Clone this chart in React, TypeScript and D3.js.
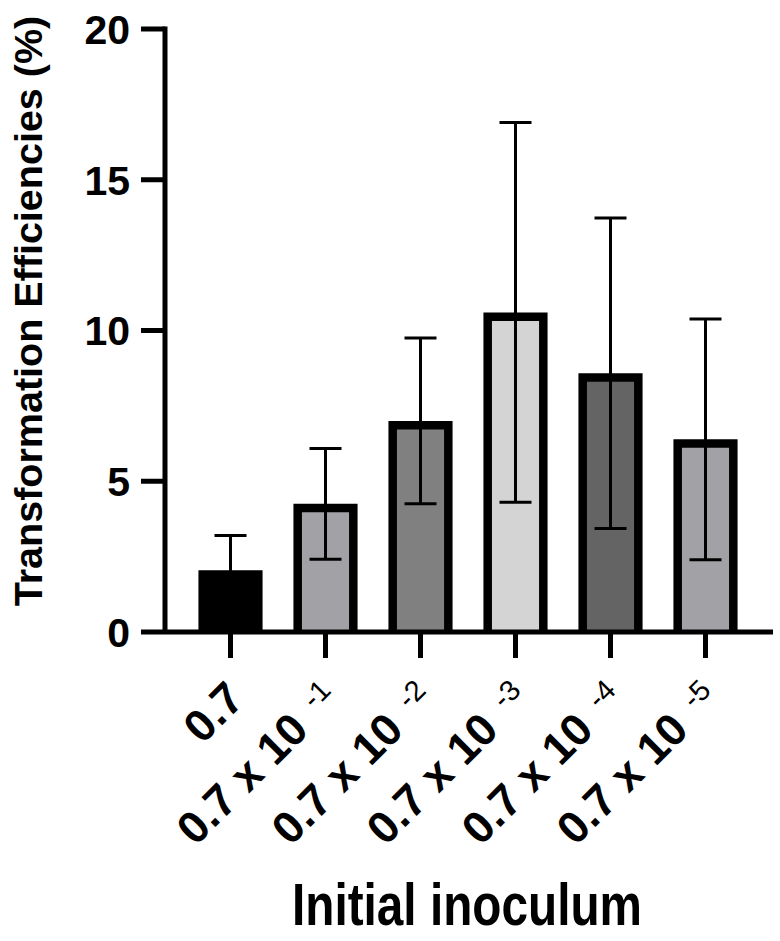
import * as d3 from "d3";

// values (mean ± SD, %)
const categories = ["0.7", "0.7 x 10-1", "0.7 x 10-2", "0.7 x 10-3", "0.7 x 10-4", "0.7 x 10-5"];
const exponents = ["", "-1", "-2", "-3", "-4", "-5"];
const means = [2.05, 4.25, 7.0, 10.6, 8.58, 6.39];
const sds = [1.15, 1.84, 2.75, 6.3, 5.15, 3.99];
const barColors = ["#000000", "#a2a2a6", "#808080", "#d4d4d4", "#646464", "#a2a2a6"];
const yTicks = [0, 5, 10, 15, 20];

const W = 780;
const H = 941;
const FONT = "'Liberation Sans', Arial, Helvetica, sans-serif";

export default function App() {
  const axisX = 165;
  const axisY = 632;

  const x = d3.scaleBand<string>().domain(categories).range([183, 753]).padding(0);
  const y = d3.scaleLinear().domain([0, 20]).range([axisY, 29]);

  const barStroke = 8.5;
  const barOuter = x.bandwidth() * 0.675;
  const capHalf = 16;

  return (
    <svg
      width={W}
      height={H}
      viewBox={`0 0 ${W} ${H}`}
      style={{ position: "absolute", left: 0, top: 0, background: "#fff" }}
      fontFamily={FONT}
      fontWeight="bold"
    >
      {/* bars */}
      {categories.map((c, i) => {
        const cx = x(c)! + x.bandwidth() / 2;
        const left = cx - barOuter / 2 + barStroke / 2;
        const right = cx + barOuter / 2 - barStroke / 2;
        const top = y(means[i]) + barStroke / 2;
        return (
          <g key={c}>
            <rect x={left} y={top} width={right - left} height={axisY - top} fill={barColors[i]} />
            <path
              d={`M${left},${axisY} V${top} H${right} V${axisY}`}
              fill="none"
              stroke="#000"
              strokeWidth={barStroke}
              strokeLinejoin="miter"
            />
          </g>
        );
      })}

      {/* error bars */}
      {categories.map((c, i) => {
        const cx = x(c)! + x.bandwidth() / 2;
        const hi = y(means[i] + sds[i]);
        const lo = y(means[i] - sds[i]);
        return (
          <g key={`err-${c}`} stroke="#000" strokeWidth={3} fill="none">
            <line x1={cx} x2={cx} y1={hi} y2={lo} />
            <line x1={cx - capHalf} x2={cx + capHalf} y1={hi} y2={hi} />
            <line x1={cx - capHalf} x2={cx + capHalf} y1={lo} y2={lo} />
          </g>
        );
      })}

      {/* y axis */}
      <line x1={axisX} x2={axisX} y1={y(20) - 2.5} y2={axisY} stroke="#000" strokeWidth={5} />
      {yTicks.map((t) => (
        <g key={`yt-${t}`}>
          <line x1={axisX - 24} x2={axisX} y1={y(t)} y2={y(t)} stroke="#000" strokeWidth={5} />
          <text x={130} y={y(t)} dy="0.36em" textAnchor="end" fontSize={41}>
            {t}
          </text>
        </g>
      ))}

      {/* x axis */}
      <line x1={axisX} x2={773} y1={axisY} y2={axisY} stroke="#000" strokeWidth={5} />
      {categories.map((c, i) => {
        const cx = x(c)! + x.bandwidth() / 2;
        return (
          <g key={`xt-${c}`}>
            <line x1={cx} x2={cx} y1={axisY} y2={658} stroke="#000" strokeWidth={5} />
            <text
              transform={`translate(${cx + 16},701) rotate(-45)`}
              textAnchor="end"
              fontSize={45}
            >
              {exponents[i] === "" ? (
                "0.7"
              ) : (
                <>
                  <tspan>0.7 x 10</tspan>
                  <tspan dx={18} dy={-13} fontSize={29} fontWeight="normal">
                    {exponents[i]}
                  </tspan>
                </>
              )}
            </text>
          </g>
        );
      })}

      {/* axis titles */}
      <text
        transform={`translate(42,311) rotate(-90)`}
        textAnchor="middle"
        fontSize={39.5}
      >
        Transformation Efficiencies (%)
      </text>
      <text x={467} y={925} textAnchor="middle" fontSize={59} textLength={350} lengthAdjust="spacingAndGlyphs">
        Initial inoculum
      </text>
    </svg>
  );
}
